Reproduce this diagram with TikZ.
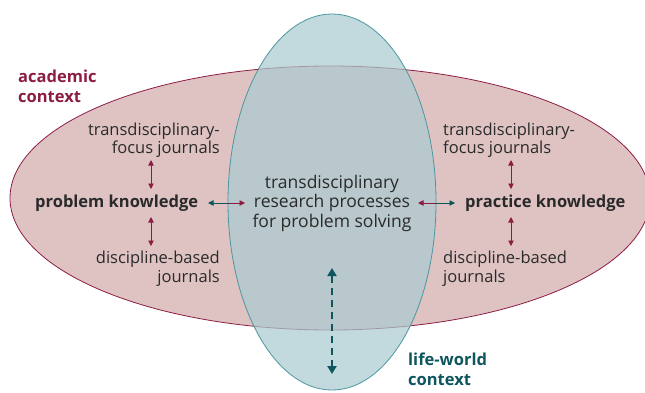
\documentclass[tikz,border=0pt]{standalone}
\usepackage{fontspec}
\setmainfont{Open Sans}
\usetikzlibrary{arrows.meta}
\definecolor{maroon}{HTML}{8C1D42}
\definecolor{teal}{HTML}{0E565E}
\definecolor{tealline}{HTML}{4C979F}
\definecolor{pinkfill}{HTML}{DFC3C3}
\definecolor{bluefill}{HTML}{AACAD0}
\definecolor{txt}{HTML}{2A2A2A}
\tikzset{
  lbl/.style={font=\fontsize{16.5}{18.5}\selectfont, text=txt, inner sep=0pt},
  key/.style={font=\fontsize{16.5}{18}\selectfont\bfseries, text=txt, inner sep=0pt},
  ctx/.style={font=\fontsize{16.5}{20}\selectfont\bfseries, inner sep=0pt, align=left, anchor=north west},
  marr/.style={draw=maroon, line width=0.9pt, {Triangle[length=5.5pt,width=5.5pt]}-{Triangle[length=5.5pt,width=5.5pt]}},
}
\begin{document}
\begin{tikzpicture}[x=1pt,y=-1pt]
\useasboundingbox (0,0) rectangle (645,392);
% academic context ellipse
\fill[pinkfill] (330,198) ellipse [x radius=320, y radius=132];
\draw[maroon, line width=0.8pt] (330,198) ellipse [x radius=320, y radius=132];
% life-world ellipse
\fill[bluefill, fill opacity=0.72] (332,202) ellipse [x radius=104, y radius=188];
\draw[tealline, line width=0.8pt] (332,202) ellipse [x radius=104, y radius=188];

% context labels
\node[ctx, text=maroon] (acad) at (18,70) {academic\\context};
\node[ctx, text=teal] (life) at (408,353) {life-world\\context};

% left side
\node[key, anchor=west] (pk) at (35,203) {problem knowledge};
\node[lbl, align=right, anchor=south east] (ltf) at (220,158) {transdisciplinary-\\focus journals};
\node[lbl, align=right, anchor=north east] (ldb) at (220,251) {discipline-based\\journals};
\draw[marr] (151,160) -- (151,189);
\draw[marr] (151,217) -- (151,246);

% center
\node[lbl, align=center, font=\fontsize{17.5}{19.5}\selectfont] (ctr) at (332,203) {transdisciplinary\\research processes\\for problem solving};

% right side
\node[key, anchor=west] (prk) at (465,203) {practice knowledge};
\node[lbl, align=left, anchor=south west] (rtf) at (443,158) {transdisciplinary-\\focus journals};
\node[lbl, align=left, anchor=north west] (rdb) at (443,251) {discipline-based\\journals};
\draw[marr] (511,160) -- (511,189);
\draw[marr] (511,217) -- (511,246);

% horizontal arrows
\coordinate (bl) at (228,203);
\coordinate (br) at (436,203);
\draw[teal, line width=0.9pt, {Triangle[length=5.5pt,width=5.5pt]}-] (208,203) -- (bl);
\draw[maroon, line width=0.9pt, -{Triangle[length=5.5pt,width=5.5pt]}] (bl) -- (245,203);
\draw[maroon, line width=0.9pt, {Triangle[length=5.5pt,width=5.5pt]}-] (418,203) -- (br);
\draw[teal, line width=0.9pt, -{Triangle[length=5.5pt,width=5.5pt]}] (br) -- (455,203);

% dashed vertical arrow
\coordinate (dtop) at (332,268);
\coordinate (dbot) at (332,374);
\draw[teal, line width=2.6pt, dash pattern=on 7pt off 5pt, {Triangle[length=8pt,width=9pt]}-{Triangle[length=8pt,width=9pt]}] (dtop) -- (dbot);
\end{tikzpicture}
\end{document}
